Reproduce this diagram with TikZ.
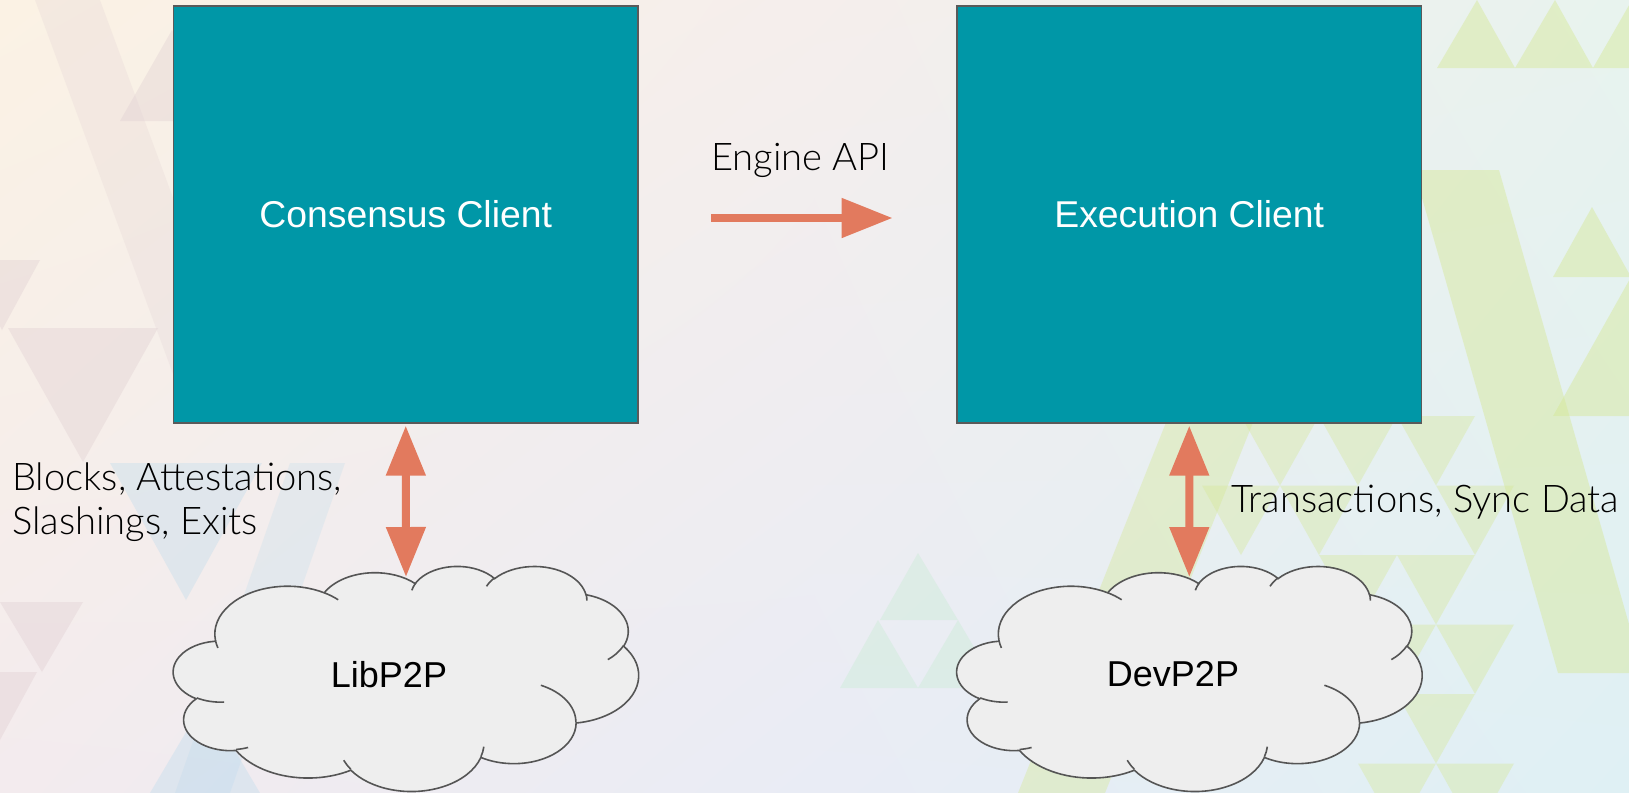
\documentclass[tikz,border=0pt]{standalone}
\usepackage{fontspec}
\setmainfont{Liberation Sans}
\newfontfamily\lightfont{Lato}[UprightFont={* Light}]
\usetikzlibrary{arrows.meta,shadings}
\newdimen\px \px=0.75pt
\definecolor{boxteal}{RGB}{0,151,167}
\definecolor{boxedge}{RGB}{90,90,90}
\definecolor{arrowc}{RGB}{226,122,94}
\definecolor{cloudfill}{RGB}{238,238,238}
\definecolor{cloudedge}{RGB}{85,85,85}
\definecolor{bgA}{RGB}{251,242,228}
\definecolor{bgB}{RGB}{245,238,236}
\definecolor{bgC}{RGB}{243,235,238}
\definecolor{bgD}{RGB}{233,236,245}
\definecolor{bgE}{RGB}{232,243,238}
\definecolor{bgF}{RGB}{223,240,244}
\definecolor{pinkgray}{RGB}{222,204,208}
\definecolor{bluet}{RGB}{178,216,236}
\definecolor{ygreen}{RGB}{214,232,150}
\definecolor{mintc}{RGB}{196,236,208}

\newcommand\oocalc[4]{%
  \pgfmathsetmacro\oos{atan2((#1)*sin(#3),(#2)*cos(#3))}%
  \pgfmathsetmacro\ooe{atan2((#1)*sin((#3)+(#4)),(#2)*cos((#3)+(#4)))}%
  \pgfmathsetmacro\ood{mod((\ooe)-(\oos)+720,360)}%
  \global\let\ooS\oos\global\let\ooD\ood}
\tikzset{ooarc/.style 2 args={x radius=#1,y radius=#2,start angle=\ooS,delta angle=\ooD}}

\newcommand\cloudat[2]{%
 \begin{scope}[shift={(#1,#2)},x=0.0807292pt,y=-0.0390625pt]
  \filldraw[cloudbody] (390,1437)
   \pgfextra{\oocalc{675.3}{919}{-190.4875}{123.7805}} arc[ooarc={675.3}{919}]
   \pgfextra{\oocalc{533.3}{726.7}{-144.1024}{89.9452}} arc[ooarc={533.3}{726.7}]
   \pgfextra{\oocalc{436.5}{594.5}{-145.8079}{99.7230}} arc[ooarc={436.5}{594.5}]
   \pgfextra{\oocalc{485.7}{659.5}{-130.9861}{117.2417}} arc[ooarc={485.7}{659.5}]
   \pgfextra{\oocalc{533.3}{727.3}{-78.7089}{109.0269}} arc[ooarc={533.3}{727.3}]
   \pgfextra{\oocalc{677.5}{922}{-46.2673}{130.2690}} arc[ooarc={677.5}{922}]
   \pgfextra{\oocalc{578.5}{786.7}{0.6250}{114.0333}} arc[ooarc={578.5}{786.7}]
   \pgfextra{\oocalc{675.2}{921.5}{22.4516}{115.1726}} arc[ooarc={675.2}{921.5}]
   \pgfextra{\oocalc{772}{1054.3}{66.2426}{75.7110}} arc[ooarc={772}{1054.3}]
   \pgfextra{\oocalc{436}{591.8}{-274.9421}{146.7356}} arc[ooarc={436}{591.8}]
   \pgfextra{\oocalc{434.5}{594.5}{-246.8285}{152.5189}} arc[ooarc={434.5}{594.5}]
   -- cycle;
  \draw[cloudline]
   (469.3,2617.7) \pgfextra{\oocalc{434.5}{594.5}{86.7420}{26.4295}} arc[ooarc={434.5}{594.5}]
   (692.8,3489.9) \pgfextra{\oocalc{436}{591.8}{73.6105}{11.4475}} arc[ooarc={436}{591.8}]
   (1647.8,3909) \pgfextra{\oocalc{675.2}{921.5}{137.6242}{14.0811}} arc[ooarc={675.2}{921.5}]
   (2882.7,3475.1) \pgfextra{\oocalc{675.2}{921.5}{6.4533}{15.9984}} arc[ooarc={675.2}{921.5}]
   (3412.9,2295.4) \pgfextra{\oocalc{578.5}{786.7}{-70.2924}{70.9174}} arc[ooarc={578.5}{786.7}]
   (4179.8,1535.4) \pgfextra{\oocalc{533.3}{727.3}{30.3180}{27.7515}} arc[ooarc={533.3}{727.3}]
   (3832.4,542.6) \pgfextra{\oocalc{485.7}{659.5}{-13.7443}{14.8512}} arc[ooarc={485.7}{659.5}]
   (2907.8,395.2) \pgfextra{\oocalc{485.7}{659.5}{-149.1815}{18.1835}} arc[ooarc={485.7}{659.5}]
   (2214.1,472) \pgfextra{\oocalc{436.5}{594.5}{-163.4943}{17.6960}} arc[ooarc={436.5}{594.5}]
   (1400,519.2) \pgfextra{\oocalc{675.3}{919}{-66.7070}{12.3194}} arc[ooarc={675.3}{919}]
   (412.7,1578.9) \pgfextra{\oocalc{675.3}{919}{157.6544}{11.8582}} arc[ooarc={675.3}{919}];
 \end{scope}}

\begin{document}
\begin{tikzpicture}[x=0.75pt,y=-0.75pt,
  box/.style={draw=boxedge, line width=1.3\px, fill=boxteal, minimum width=464.5\px,
    minimum height=417\px, inner sep=0pt, text=white, font=\fontsize{28}{34}\selectfont},
  lbl/.style={font=\lightfont\fontsize{28.6}{34}\selectfont, text=black, inner sep=0pt},
  cloudtxt/.style={font=\fontsize{27}{33}\selectfont, text=black, inner sep=0pt},
  cloudbody/.style={fill=cloudfill, draw=cloudedge, line width=1.6\px},
  cloudline/.style={draw=cloudedge, line width=1.6\px},
  conn/.style={draw=arrowc, line width=6pt},
  engine/.style={conn, -{Triangle[length=38.25pt,width=28.5pt]}},
  dbl/.style={conn, {Triangle[length=37.5pt,width=28.5pt]}-{Triangle[length=37.5pt,width=28.5pt]}},
  pk/.style={fill=pinkgray, opacity=.35},
  bl/.style={fill=bluet, opacity=.3},
  yg/.style={fill=ygreen, opacity=.45},
  mn/.style={fill=mintc, opacity=.35}]
\useasboundingbox (0,0) rectangle (1629,793);
\shade[upper left=bgA, upper right=bgB, lower left=bgC, lower right=bgD] (0,0) rectangle (815,793);
\shade[upper left=bgB, upper right=bgE, lower left=bgD, lower right=bgF] (814,0) rectangle (1629,793);
\begin{scope}
\clip (0,0) rectangle (1629,793);
% left side
\fill[pk, opacity=.22] (35,0) -- (100,0) -- (255,420) -- (190,420) -- cycle;
\fill[pk] (120,121) -- (172,30) -- (224,121) -- cycle;
\fill[pk] (8,328) -- (158,328) -- (83,462) -- cycle;
\fill[pk] (-35,260) -- (40,260) -- (2,330) -- cycle;
\fill[pk] (0,602) -- (83,602) -- (42,672) -- cycle;
\fill[pk] (-35,672) -- (37,672) -- (0,740) -- cycle;
\fill[bl] (110,463) -- (262,463) -- (186,600) -- cycle;
\fill[bl, opacity=.22] (290,463) -- (345,463) -- (230,793) -- (175,793) -- cycle;
\fill[bl] (150,793) -- (205,700) -- (260,793) -- cycle;
% mint
\fill[mn] (880,620) -- (918,553) -- (958,620) -- cycle;
\fill[mn] (840,688) -- (878,620) -- (918,688) -- cycle;
\fill[mn] (918,688) -- (958,620) -- (998,688) -- cycle;
% right side
\fill[yg] (1437,68) -- (1477,0) -- (1515,68) -- cycle;
\fill[yg] (1515,68) -- (1555,0) -- (1593,68) -- cycle;
\fill[yg] (1593,68) -- (1632,0) -- (1671,68) -- cycle;
\fill[yg] (1553,277) -- (1592,207) -- (1631,277) -- cycle;
\fill[yg] (1553,416) -- (1631,277) -- (1709,416) -- cycle;
\fill[yg] (1414,170) -- (1499,170) -- (1643,673) -- (1558,673) -- cycle;
\fill[yg, opacity=.4] (1175,400) -- (1262,400) -- (1105,793) -- (1018,793) -- cycle;
\foreach \tx/\ty in {1241/416,1319/416,1397/416,1202/485.5,1280/485.5,1436/485.5,
  1319/555,1397/555,1358/624.5,1436/624.5,1397/694,1358/763.5,1436/763.5}
  \fill[yg, opacity=.38] (\tx,\ty) -- ++(78,0) -- ++(-39,69.5) -- cycle;
\end{scope}

\node[box] (cc) at (405.75,214.5) {Consensus Client};
\node[box] (ec) at (1189.25,214.5) {Execution Client};
\cloudat{173.5}{565.7}
\cloudat{957}{565.7}
\node[cloudtxt, anchor=base] (lib) at (389,687) {LibP2P};
\node[cloudtxt, anchor=base] (dev) at (1173,686.5) {DevP2P};
\coordinate (libtop) at (406,577);
\coordinate (devtop) at (1189.3,577);

\draw[engine, shorten <=72.4\px, shorten >=63.7\px] ([yshift=-3.5\px]cc.east) -- ([yshift=-3.5\px]ec.west);
\draw[dbl] ([yshift=-2\px]cc.south) -- (libtop);
\draw[dbl] ([yshift=-2\px]ec.south) -- (devtop);

\node[lbl, anchor=base west] (eng) at (711,170.7) {Engine API};
\node[lbl, anchor=base west] (cl1) at (12,490) {Blocks, Attestations,};
\node[lbl, anchor=base west] (cl2) at (12,534) {Slashings, Exits};
\node[lbl, anchor=base west] (el1) at (1231,512.3) {Transactions, Sync Data};
\end{tikzpicture}
\end{document}
